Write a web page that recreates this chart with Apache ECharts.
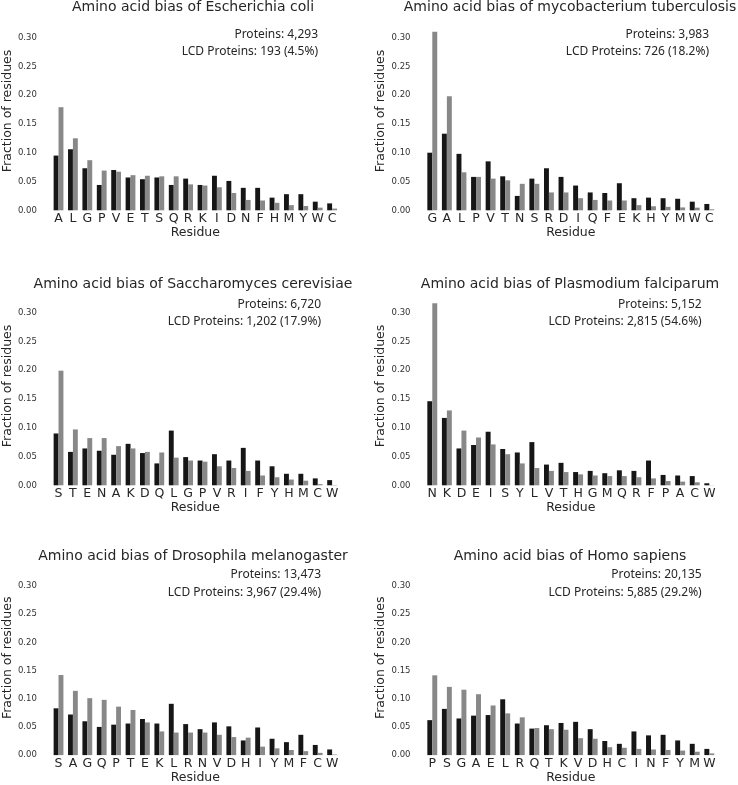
<!DOCTYPE html>
<html>
<head>
<meta charset="utf-8">
<script src="https://cdn.jsdelivr.net/npm/echarts@6/dist/echarts.min.js"></script>
<style>
html,body{margin:0;padding:0;background:#fff;}
#chart{width:738px;height:785px;}
</style>
</head>
<body>
<div id="chart"></div>
<script>
// ---- Data (fraction of residues): black = all proteins, gray = LCD proteins ----
const ecoliResidues = ['A','L','G','P','V','E','T','S','Q','R','K','I','D','N','F','H','M','Y','W','C'];
const ecoliAll = [0.095,0.106,0.073,0.044,0.070,0.057,0.054,0.057,0.044,0.055,0.044,0.060,0.051,0.039,0.039,0.022,0.028,0.028,0.015,0.012];
const ecoliLCD = [0.179,0.125,0.087,0.069,0.067,0.061,0.060,0.059,0.059,0.045,0.043,0.040,0.030,0.018,0.017,0.013,0.009,0.0075,0.0046,0.003];

const mtbResidues = ['G','A','L','P','V','T','N','S','R','D','I','Q','F','E','K','H','Y','M','W','C'];
const mtbAll = [0.100,0.133,0.098,0.058,0.085,0.059,0.025,0.055,0.073,0.058,0.043,0.031,0.030,0.047,0.021,0.022,0.021,0.020,0.015,0.011];
const mtbLCD = [0.310,0.198,0.066,0.058,0.055,0.052,0.046,0.046,0.031,0.031,0.021,0.018,0.017,0.017,0.009,0.007,0.006,0.005,0.0046,0.0017];

const yeastResidues = ['S','T','E','N','A','K','D','Q','L','G','P','V','R','I','F','Y','H','M','C','W'];
const yeastAll = [0.090,0.058,0.064,0.060,0.053,0.072,0.056,0.038,0.095,0.049,0.043,0.054,0.043,0.065,0.043,0.033,0.020,0.020,0.012,0.009];
const yeastLCD = [0.199,0.097,0.082,0.082,0.068,0.064,0.058,0.057,0.048,0.043,0.041,0.033,0.030,0.025,0.017,0.014,0.010,0.008,0.002,0.0006];

const plasmoResidues = ['N','K','D','E','I','S','Y','L','V','T','H','G','M','Q','R','F','P','A','C','W'];
const plasmoAll = [0.146,0.117,0.064,0.070,0.093,0.063,0.057,0.075,0.036,0.039,0.023,0.025,0.021,0.026,0.025,0.043,0.018,0.017,0.016,0.0035];
const plasmoLCD = [0.316,0.130,0.095,0.083,0.071,0.054,0.038,0.030,0.025,0.023,0.019,0.017,0.016,0.016,0.014,0.012,0.0075,0.0064,0.0052,0.0003];

const flyResidues = ['S','A','G','Q','P','T','E','K','L','R','N','V','D','H','I','Y','M','F','C','W'];
const flyAll = [0.083,0.072,0.060,0.050,0.054,0.056,0.064,0.056,0.091,0.055,0.046,0.058,0.051,0.026,0.049,0.029,0.023,0.036,0.018,0.010];
const flyLCD = [0.142,0.114,0.101,0.098,0.086,0.080,0.058,0.042,0.040,0.040,0.040,0.036,0.032,0.031,0.015,0.012,0.009,0.007,0.004,0.001];

const humanResidues = ['P','S','G','A','E','L','R','Q','T','K','V','D','H','C','I','N','F','Y','M','W'];
const humanAll = [0.062,0.082,0.065,0.070,0.071,0.099,0.056,0.047,0.053,0.057,0.059,0.046,0.025,0.020,0.042,0.035,0.036,0.026,0.020,0.011];
const humanLCD = [0.1415,0.121,0.116,0.108,0.088,0.074,0.067,0.048,0.046,0.045,0.030,0.029,0.014,0.013,0.011,0.010,0.009,0.008,0.006,0.003];

const panelTitles = [
  'Amino acid bias of Escherichia coli',
  'Amino acid bias of mycobacterium tuberculosis',
  'Amino acid bias of Saccharomyces cerevisiae',
  'Amino acid bias of Plasmodium falciparum',
  'Amino acid bias of Drosophila melanogaster',
  'Amino acid bias of Homo sapiens'
];
const proteinCounts = ['Proteins: 4,293','Proteins: 3,983','Proteins: 6,720','Proteins: 5,152','Proteins: 13,473','Proteins: 20,135'];
const lcdCounts = ['LCD Proteins: 193 (4.5%)','LCD Proteins: 726 (18.2%)','LCD Proteins: 1,202 (17.9%)','LCD Proteins: 2,815 (54.6%)','LCD Proteins: 3,967 (29.4%)','LCD Proteins: 5,885 (29.2%)'];
const yTickStep = 0.05;

// ---- Layout ----
const panels = [
  {res: ecoliResidues, all: ecoliAll, lcd: ecoliLCD},
  {res: mtbResidues, all: mtbAll, lcd: mtbLCD},
  {res: yeastResidues, all: yeastAll, lcd: yeastLCD},
  {res: plasmoResidues, all: plasmoAll, lcd: plasmoLCD},
  {res: flyResidues, all: flyAll, lcd: flyLCD},
  {res: humanResidues, all: humanAll, lcd: humanLCD}
];
const colLeft = [47.7, 425];
const colTitleX = [193, 570];
const annoRight = [[318, 709], [321, 701.7], [321, 701.7]];
const rowZero = [210.3, 485.3, 759.3];
const rowTitleTop = [0.5, 277, 549.5];
const rowAnnoY = [[34.3, 51.7], [304.3, 321.7], [575, 592.7]];
const gridW = 291.6, gridH = 198.7, yMax = 0.345;
const FONT = 'DejaVu Sans';
const TXT = '#262626';

const grids = [], xAxes = [], yAxes = [], series = [], graphics = [];
panels.forEach((p, i) => {
  const r = Math.floor(i / 2), c = i % 2;
  grids.push({left: colLeft[c], top: rowZero[r] - gridH, width: gridW, height: gridH, containLabel: false});
  xAxes.push({
    type: 'category', gridIndex: i, data: p.res,
    axisLine: {show: false}, axisTick: {show: false}, splitLine: {show: false},
    axisLabel: {interval: 0, fontFamily: FONT, fontSize: 12.5, color: TXT, margin: 2},
    name: 'Residue', nameLocation: 'middle', nameGap: 13,
    nameTextStyle: {fontFamily: FONT, fontSize: 12.5, color: TXT}
  });
  yAxes.push({
    type: 'value', gridIndex: i, min: 0, max: yMax, interval: yTickStep,
    axisLine: {show: false}, axisTick: {show: false}, splitLine: {show: false},
    axisLabel: {
      fontFamily: FONT, fontSize: 8.5, color: '#333', margin: 14.5,
      formatter: v => Math.abs(v / yTickStep - Math.round(v / yTickStep)) < 1e-6 ? v.toFixed(2) : ''
    },
    name: 'Fraction of residues', nameLocation: 'middle', nameGap: 35,
    nameTextStyle: {fontFamily: FONT, fontSize: 12.5, color: TXT}
  });
  series.push({
    type: 'bar', xAxisIndex: i, yAxisIndex: i, data: p.all,
    barWidth: '34%', barGap: '0%', itemStyle: {color: '#161616'}, silent: true
  });
  series.push({
    type: 'bar', xAxisIndex: i, yAxisIndex: i, data: p.lcd,
    barWidth: '34%', barGap: '0%', itemStyle: {color: '#888888'}, silent: true
  });
  graphics.push({
    type: 'text', x: colTitleX[c], y: rowTitleTop[r],
    style: {text: panelTitles[i], fontFamily: FONT, fontSize: 14, fill: TXT,
      textAlign: 'center', textVerticalAlign: 'top', align: 'center', verticalAlign: 'top'}
  });
  graphics.push({
    type: 'text', x: annoRight[r][c], y: rowAnnoY[r][0],
    style: {text: proteinCounts[i], fontFamily: 'Noto Sans', fontSize: 12, fill: TXT,
      textAlign: 'right', textVerticalAlign: 'middle', align: 'right', verticalAlign: 'middle'}
  });
  graphics.push({
    type: 'text', x: annoRight[r][c], y: rowAnnoY[r][1],
    style: {text: lcdCounts[i], fontFamily: 'Noto Sans', fontSize: 12, fill: TXT,
      textAlign: 'right', textVerticalAlign: 'middle', align: 'right', verticalAlign: 'middle'}
  });
});

const chart = echarts.init(document.getElementById('chart'), null, {renderer: 'canvas'});
chart.setOption({
  animation: false,
  backgroundColor: '#ffffff',
  grid: grids, xAxis: xAxes, yAxis: yAxes, series: series,
  graphic: {elements: graphics}
});
</script>
</body>
</html>
